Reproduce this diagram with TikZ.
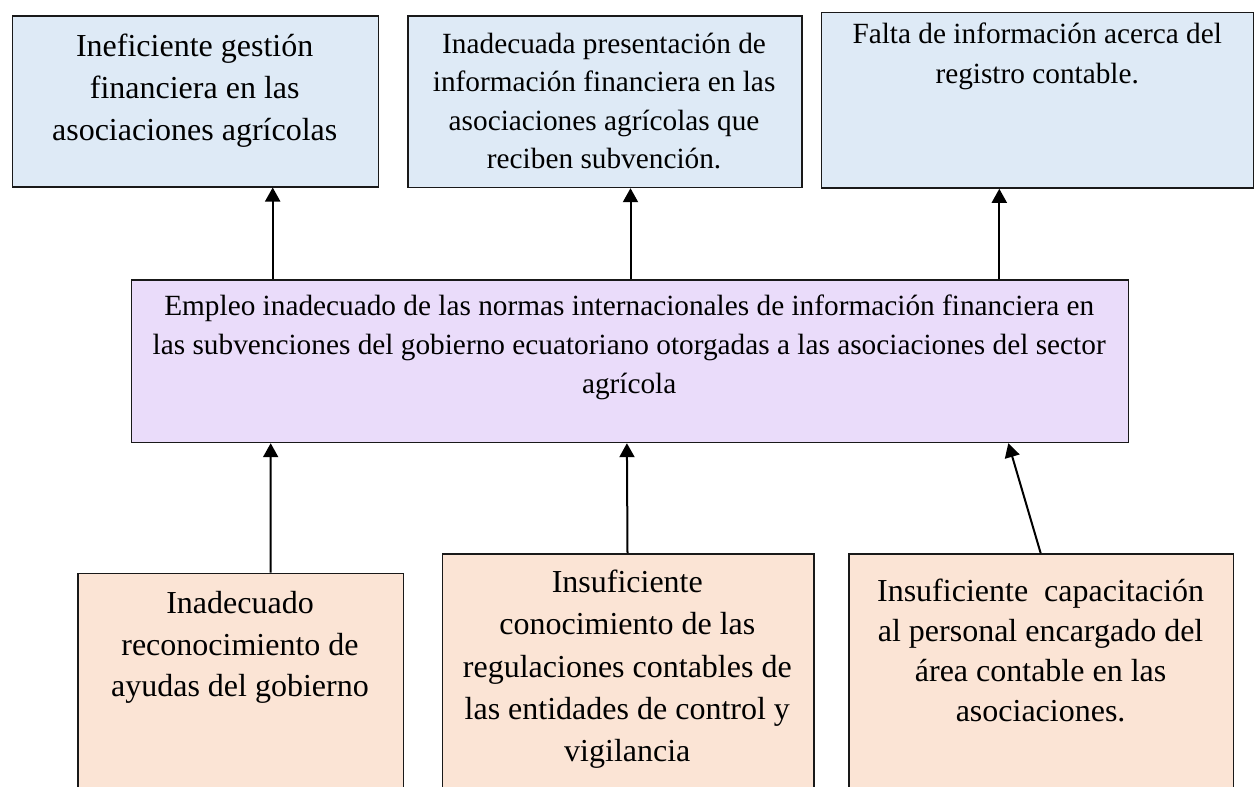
\documentclass[tikz,border=0pt]{standalone}
\usepackage{fontspec}
\setmainfont{Liberation Serif}
\usetikzlibrary{arrows.meta}
\definecolor{topfill}{RGB}{222,234,246}
\definecolor{midfill}{RGB}{234,220,250}
\definecolor{botfill}{RGB}{251,228,213}
\definecolor{edge}{RGB}{25,25,25}
\tikzset{
  box/.style={draw=edge, line width=1.5pt, inner sep=0pt, anchor=north west},
  txt/.style={inner sep=0pt, align=center, anchor=base},
  big/.style={font=\fontsize{32}{41.7}\selectfont},
  small/.style={font=\fontsize{29.3}{39.2}\selectfont},
  arr/.style={line width=2pt, draw=black, -{Triangle[width=15pt,length=14pt]}},
}
\begin{document}
\begin{tikzpicture}[x=1pt,y=-1pt]
\useasboundingbox (0,0) rectangle (1256,787);
\clip (0,0) rectangle (1256,787);
% top boxes
\node[box, fill=topfill, minimum width=366pt, minimum height=171pt] (t1) at (11.7,15) {};
\node[box, fill=topfill, minimum width=394pt, minimum height=171.7pt] (t2) at (407,15) {};
\node[box, fill=topfill, minimum width=432pt, minimum height=175.6pt] (t3) at (820.7,11.7) {};
% middle box
\node[box, fill=midfill, minimum width=997pt, minimum height=162.7pt] (m) at (130.7,279) {};
% bottom boxes
\node[box, fill=botfill, minimum width=325.4pt, minimum height=260pt] (b1) at (77.3,572.7) {};
\node[box, fill=botfill, minimum width=371.3pt, minimum height=260pt] (b2) at (441.7,553) {};
\node[box, fill=botfill, minimum width=384.7pt, minimum height=260pt] (b3) at (848,553.3) {};
% texts (anchor base = baseline of the last line)
\node[txt, big] (t1t) at (194.7,140.1) {Ineficiente gestión\\financiera en las\\asociaciones agrícolas};
\node[txt, small, font=\fontsize{29.3}{38.5}\selectfont] (t2t) at (604.1,168.8) {Inadecuada presentación de\\información financiera en las\\asociaciones agrícolas que\\reciben subvención.};
\node[txt, small, font=\fontsize{29.3}{40}\selectfont] (t3t) at (1037.2,83.3) {Falta de información acerca del\\registro contable.};
\node[txt, small] (mt) at (629.2,393.4) {Empleo inadecuado de las normas internacionales de información financiera en\\las subvenciones del gobierno ecuatoriano otorgadas a las asociaciones del sector\\agrícola};
\node[txt, big] (b1t) at (240,696.7) {Inadecuado\\reconocimiento de\\ayudas del gobierno};
\node[txt, big, font=\fontsize{32}{42.2}\selectfont] (b2t) at (627.3,761.5) {Insuficiente\\conocimiento de las\\regulaciones contables de\\las entidades de control y\\vigilancia};
\node[txt, big, font=\fontsize{32}{40}\selectfont] (b3t) at (1040.6,721.7) {Insuficiente\ \ capacitación\\al personal encargado del\\área contable en las\\asociaciones.};
% arrows middle -> top
\draw[arr] (m.north -| 272.7,0) -- (t1.south -| 272.7,0);
\draw[arr] (m.north -| 630.5,0) -- (t2.south -| 630.5,0);
\draw[arr] (m.north -| 999.3,0) -- (t3.south -| 999.3,0);
% arrows bottom -> middle
\draw[arr] (b1.north -| 270.5,0) -- (m.south -| 270.7,0);
\draw[arr] (b2.north -| 627.5,0) -- (m.south -| 626.9,0);
\draw[arr] (b3.north -| 1040.7,0) -- (m.south -| 1008.3,0);
\end{tikzpicture}
\end{document}
